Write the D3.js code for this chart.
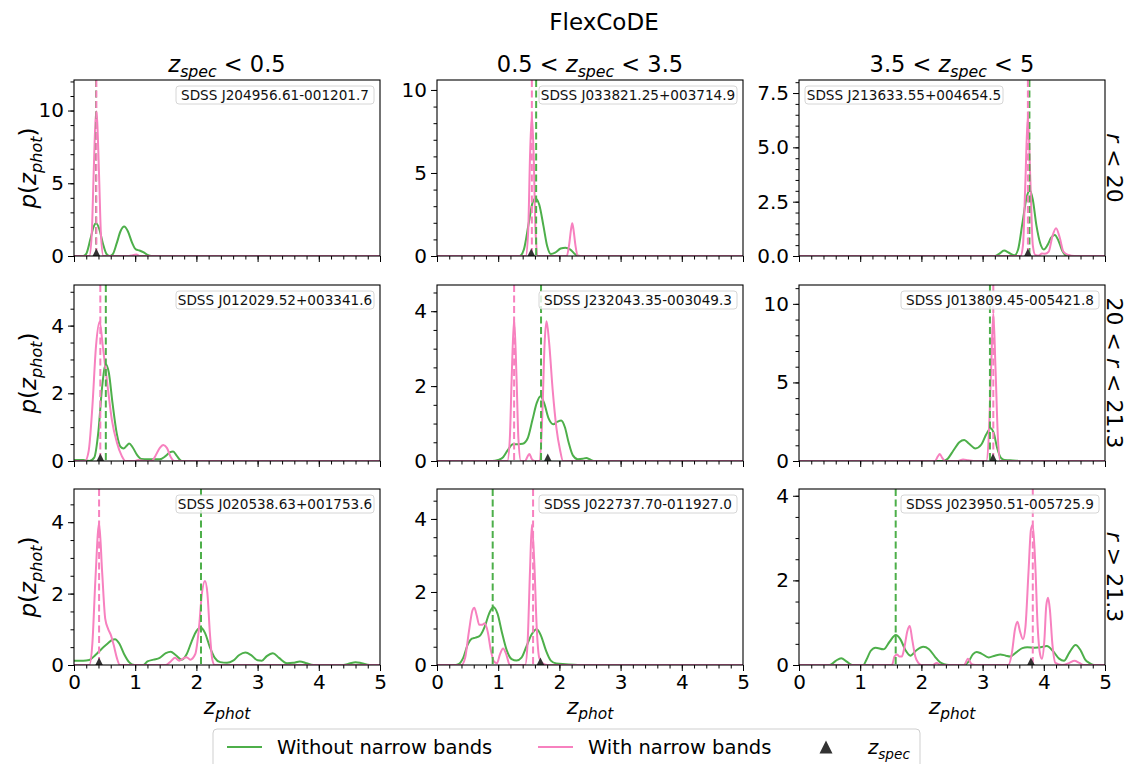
<!DOCTYPE html>
<html>
<head>
<meta charset="utf-8">
<script src="https://cdn.jsdelivr.net/npm/d3@7"></script>
<style>
  body { margin: 0; background: #fff; }
  svg { font-family: "DejaVu Sans", sans-serif; }
  text { white-space: pre; }
</style>
</head>
<body>
<script>
// --- values ---

// grid labels
const colTitles = [
    [["z", "i"], ["spec", "s"], [" < 0.5"]],
    [["0.5 < "], ["z", "i"], ["spec", "s"], [" < 3.5"]],
    [["3.5 < "], ["z", "i"], ["spec", "s"], [" < 5"]]
];
const rowTitles = [
    [["r", "i"], [" < 20"]],
    [["20 < "], ["r", "i"], [" < 21.3"]],
    [["r", "i"], [" > 21.3"]]
];

// one object name per panel (row by row)
const objectNames = [
    "SDSS J204956.61-001201.7", "SDSS J033821.25+003714.9", "SDSS J213633.55+004654.5",
    "SDSS J012029.52+003341.6", "SDSS J232043.35-003049.3", "SDSS J013809.45-005421.8",
    "SDSS J020538.63+001753.6", "SDSS J022737.70-011927.0", "SDSS J023950.51-005725.9"
];
const nameSide = ["right", "right", "left", "right", "right", "right", "right", "right", "right"];

// spectroscopic redshifts and the modes of both pdfs
const zSpec = [0.365, 1.54, 3.74, 0.43, 1.81, 3.17, 0.41, 1.69, 3.79];
const modeWithout = [0.36, 1.62, 3.765, 0.52, 1.70, 3.12, 2.075, 0.91, 1.58];
const modeWith = [0.365, 1.55, 3.74, 0.43, 1.26, 3.175, 0.41, 1.57, 3.82];

// y axis tops and tick steps
const yTop = [12.1, 10.6, 8.1, 5.2, 4.7, 11.2, 4.93, 4.82, 4.16];
const yMajor = [5, 5, 2.5, 2, 2, 5, 2, 2, 2];
const yMinor = [1, 1, 0.5, 0.5, 0.5, 1, 0.5, 0.5, 0.5];

const xMajor = [0, 1, 2, 3, 4, 5];
const xMinor = [0, 0.2, 0.4, 0.6, 0.8, 1, 1.2, 1.4, 1.6, 1.8, 2, 2.2, 2.4, 2.6, 2.8, 3, 3.2, 3.4, 3.6, 3.8,
    4, 4.2, 4.4, 4.6, 4.8, 5];

// p(z_phot) without narrow bands, [z, p] per panel
const withoutNarrow = [
    [[0,0],[0.15,0],[0.2,0.15],[0.27,1.2],[0.32,2.0],[0.36,2.25],[0.41,1.9],[0.47,0.9],[0.53,0.15],[0.58,0],
     [0.63,0.1],[0.7,0.9],[0.76,1.7],[0.82,2.02],[0.88,1.7],[0.95,0.9],[1.01,0.45],[1.07,0.38],[1.14,0.25],
     [1.2,0.08],[1.27,0],[5,0]],
    [[0,0],[1.35,0],[1.42,0.4],[1.5,2.0],[1.56,3.2],[1.61,3.47],[1.67,3.1],[1.74,1.8],[1.8,0.6],[1.86,0.12],
     [1.93,0.2],[2.02,0.45],[2.1,0.5],[2.18,0.38],[2.26,0.1],[2.35,0],[5,0]],
    [[0,0],[3.2,0],[3.27,0.1],[3.35,0.25],[3.43,0.15],[3.52,0.03],[3.58,0.3],[3.65,1.5],[3.72,2.7],[3.77,3.04],
     [3.82,2.6],[3.88,1.4],[3.94,0.6],[4.0,0.3],[4.06,0.5],[4.12,0.85],[4.18,0.97],[4.24,0.7],[4.3,0.25],
     [4.36,0.03],[4.45,0],[5,0]],
    [[0,0.03],[0.15,0.03],[0.25,0],[0.33,0.1],[0.4,0.9],[0.46,2.2],[0.52,2.86],[0.57,2.6],[0.63,1.7],[0.7,0.8],
     [0.76,0.42],[0.81,0.37],[0.86,0.45],[0.9,0.52],[0.96,0.4],[1.03,0.18],[1.1,0.06],[1.2,0.05],[1.3,0.05],
     [1.4,0.05],[1.5,0.15],[1.57,0.26],[1.62,0.28],[1.68,0.15],[1.76,0],[5,0]],
    [[0,0],[0.9,0],[1.0,0.03],[1.08,0.1],[1.16,0.3],[1.24,0.45],[1.32,0.45],[1.4,0.46],[1.48,0.6],[1.56,1.1],
     [1.63,1.55],[1.69,1.73],[1.75,1.55],[1.82,1.15],[1.9,0.98],[1.97,1.05],[2.03,1.08],[2.09,0.9],[2.15,0.5],
     [2.22,0.15],[2.3,0.05],[2.38,0.06],[2.44,0.08],[2.5,0.04],[2.56,0],[5,0]],
    [[0,0],[2.35,0],[2.43,0.15],[2.52,0.65],[2.62,1.2],[2.7,1.34],[2.78,1.1],[2.88,0.8],[2.98,1.05],[3.06,1.7],
     [3.13,2.09],[3.18,1.8],[3.24,0.8],[3.3,0.2],[3.36,0.06],[3.45,0.05],[3.55,0.02],[3.6,0],[5,0]],
    [[0,0.12],[0.15,0.12],[0.25,0.14],[0.35,0.28],[0.45,0.45],[0.55,0.6],[0.62,0.7],[0.67,0.72],[0.74,0.6],
     [0.82,0.3],[0.9,0.08],[0.99,0],[1.13,0],[1.2,0.1],[1.3,0.15],[1.4,0.2],[1.5,0.33],[1.58,0.37],[1.66,0.28],
     [1.76,0.15],[1.84,0.3],[1.92,0.65],[2.0,0.95],[2.07,1.05],[2.14,0.9],[2.22,0.5],[2.3,0.2],[2.39,0.08],
     [2.5,0.06],[2.6,0.12],[2.7,0.28],[2.8,0.35],[2.9,0.27],[3.0,0.13],[3.07,0.12],[3.15,0.25],[3.25,0.33],
     [3.35,0.2],[3.48,0.05],[3.58,0.06],[3.69,0.1],[3.8,0.05],[3.91,0],[4.4,0],[4.5,0.04],[4.6,0.08],[4.7,0.05],
     [4.83,0],[5,0]],
    [[0,0],[0.3,0],[0.36,0.03],[0.43,0.2],[0.5,0.55],[0.57,0.72],[0.63,0.75],[0.7,0.8],[0.78,1.05],[0.85,1.4],
     [0.92,1.59],[0.99,1.4],[1.06,0.9],[1.14,0.4],[1.22,0.16],[1.3,0.12],[1.38,0.2],[1.46,0.5],[1.55,0.85],
     [1.63,0.98],[1.7,0.8],[1.78,0.4],[1.86,0.12],[1.95,0.04],[2.1,0.02],[2.3,0],[5,0]],
    [[0,0],[0.5,0],[0.6,0.1],[0.69,0.16],[0.78,0.08],[0.87,0],[1.05,0],[1.1,0.12],[1.17,0.33],[1.25,0.41],
     [1.38,0.37],[1.48,0.55],[1.58,0.71],[1.66,0.6],[1.74,0.35],[1.82,0.22],[1.92,0.35],[2.03,0.43],[2.12,0.38],
     [2.22,0.2],[2.3,0.07],[2.37,0.02],[2.45,0],[2.7,0],[2.77,0.08],[2.84,0.25],[2.9,0.31],[2.98,0.27],[3.1,0.18],
     [3.2,0.22],[3.29,0.25],[3.38,0.22],[3.45,0.2],[3.55,0.3],[3.65,0.4],[3.73,0.42],[3.85,0.41],[3.95,0.42],
     [4.05,0.45],[4.15,0.33],[4.25,0.15],[4.33,0.1],[4.42,0.3],[4.52,0.47],[4.6,0.35],[4.68,0.12],[4.74,0.05],
     [4.82,0],[5,0]]
];

// p(z_phot) with narrow bands, [z, p] per panel
const withNarrow = [
    [[0,0],[0.25,0],[0.29,1.5],[0.32,5.5],[0.35,9.2],[0.365,9.95],[0.38,9.2],[0.41,5.5],[0.44,1.5],[0.48,0],
     [0.9,0],[0.96,0.06],[1.02,0.1],[1.08,0],[5,0]],
    [[0,0],[1.45,0],[1.49,1.5],[1.52,6.0],[1.55,8.5],[1.58,6.0],[1.61,1.5],[1.65,0],[2.12,0],[2.16,0.7],
     [2.19,1.6],[2.21,1.97],[2.23,1.6],[2.26,0.7],[2.3,0],[5,0]],
    [[0,0],[3.62,0],[3.66,0.5],[3.7,3.5],[3.74,6.5],[3.78,3.5],[3.82,0.5],[3.86,0.05],[3.92,0.02],[3.97,0.12],
     [4.02,0.1],[4.08,0.2],[4.14,0.9],[4.2,1.28],[4.26,0.85],[4.32,0.2],[4.4,0.05],[4.5,0],[5,0]],
    [[0,0],[0.18,0],[0.24,0.3],[0.3,1.6],[0.36,3.4],[0.42,4.12],[0.47,3.4],[0.55,2.2],[0.62,1.2],[0.7,0.55],
     [0.78,0.15],[0.84,0],[1.0,0],[1.05,0.03],[1.15,0],[1.27,0],[1.33,0.15],[1.4,0.38],[1.46,0.47],[1.52,0.38],
     [1.58,0.12],[1.64,0],[5,0]],
    [[0,0],[1.15,0],[1.19,0.6],[1.22,2.2],[1.26,3.8],[1.3,2.2],[1.33,0.6],[1.37,0],[1.44,0],[1.48,0.12],
     [1.51,0.19],[1.55,0.05],[1.6,0],[1.68,0],[1.72,1.2],[1.76,3.2],[1.79,3.73],[1.83,3.2],[1.89,1.9],[1.95,0.9],
     [2.01,0.3],[2.06,0],[5,0]],
    [[0,0],[2.22,0],[2.27,0.3],[2.3,0.45],[2.34,0.2],[2.39,0],[2.6,0],[2.68,0.1],[2.76,0.05],[2.85,0],
     [3.06,0],[3.1,1.5],[3.14,6.0],[3.175,9.4],[3.21,6.0],[3.25,1.5],[3.29,0],[5,0]],
    [[0,0],[0.25,0],[0.3,0.6],[0.35,2.4],[0.41,3.97],[0.46,2.6],[0.51,1.3],[0.56,1.0],[0.6,0.85],[0.65,0.55],
     [0.7,0.2],[0.75,0],[1.5,0],[1.58,0.1],[1.65,0.2],[1.72,0.12],[1.78,0.18],[1.84,0.22],[1.9,0.15],[1.98,0.3],
     [2.04,1.0],[2.09,2.0],[2.14,2.35],[2.18,2.0],[2.22,0.9],[2.26,0.15],[2.3,0],[5,0]],
    [[0,0],[0.4,0],[0.46,0.2],[0.52,0.9],[0.58,1.5],[0.61,1.57],[0.65,1.35],[0.69,1.1],[0.74,1.1],[0.78,1.14],
     [0.83,0.9],[0.88,0.4],[0.93,0.1],[0.98,0.05],[1.03,0.3],[1.08,0.45],[1.13,0.3],[1.19,0],[1.44,0],[1.48,0.6],
     [1.52,2.6],[1.55,3.84],[1.59,2.8],[1.63,1.0],[1.67,0.2],[1.72,0.05],[1.8,0],[5,0]],
    [[0,0],[1.52,0],[1.56,0.2],[1.6,0.25],[1.64,0.2],[1.68,0.2],[1.72,0.4],[1.77,0.8],[1.81,0.92],[1.85,0.6],
     [1.9,0.2],[1.95,0.05],[2.0,0],[2.18,0],[2.25,0.05],[2.32,0],[2.7,0],[2.76,0.15],[2.82,0.02],[2.88,0],
     [3.42,0],[3.48,0.3],[3.53,0.85],[3.57,1.02],[3.61,0.8],[3.66,0.61],[3.7,0.9],[3.75,2.2],[3.79,3.2],
     [3.82,3.31],[3.86,2.4],[3.9,0.9],[3.94,0.25],[3.97,0.15],[4.01,0.6],[4.04,1.4],[4.07,1.59],[4.1,1.3],
     [4.14,0.5],[4.19,0.05],[4.3,0],[4.42,0.05],[4.5,0.1],[4.58,0.05],[4.65,0],[5,0]]
];

const legendLabels = ["Without narrow bands", "With narrow bands"];

// --- drawing ---
const width = 1128, height = 764;
const green = "#4daf4a", pink = "#f781bf", markColor = "#333";
const colX = [74, 437, 799], rowY = [80, 285, 489];
const pw = 306, ph = 176;

const svg = d3.select("body").append("svg")
    .attr("width", width)
    .attr("height", height);

svg.append("rect").attr("width", width).attr("height", height).attr("fill", "#fff");

// writes text parts; "i" italic, "s" italic subscript
function rich(sel, parts, size) {
    let shift = 0;
    parts.forEach(p => {
        const ts = sel.append("tspan").text(p[0]);
        if (p[1] === "i" || p[1] === "s") ts.attr("font-style", "italic");
        const want = p[1] === "s" ? size * 0.24 : 0;
        if (want !== shift) { ts.attr("dy", want - shift); shift = want; }
        if (p[1] === "s") ts.attr("font-size", size * 0.7);
    });
    return sel;
}

const tri = s => `M0,${-s}L${s},${s}L${-s},${s}Z`;

svg.append("text")
    .attr("x", 604).attr("y", 30)
    .attr("text-anchor", "middle")
    .attr("font-size", 23)
    .text("FlexCoDE");

colTitles.forEach((t, c) => {
    rich(svg.append("text")
        .attr("x", colX[c] + pw / 2).attr("y", 72)
        .attr("text-anchor", "middle")
        .attr("font-size", 22.5), t, 22.5);

    rich(svg.append("text")
        .attr("x", colX[c] + pw / 2).attr("y", 714)
        .attr("text-anchor", "middle")
        .attr("font-size", 22), [["z", "i"], ["phot", "s"]], 22);
});

rowTitles.forEach((t, r) => {
    rich(svg.append("text")
        .attr("transform", `translate(1107,${rowY[r] + ph / 2}) rotate(90)`)
        .attr("text-anchor", "middle")
        .attr("font-size", 22), t, 22);

    rich(svg.append("text")
        .attr("transform", `translate(36,${rowY[r] + ph / 2}) rotate(-90)`)
        .attr("text-anchor", "middle")
        .attr("font-size", 23), [["p", "i"], ["("], ["z", "i"], ["phot", "s"], [")"]], 23);
});

const line = d3.line().curve(d3.curveMonotoneX);

objectNames.forEach((name, i) => {
    const row = Math.floor(i / 3), col = i % 3;
    const g = svg.append("g").attr("transform", `translate(${colX[col]},${rowY[row]})`);

    const x = d3.scaleLinear().domain([0, 5]).range([0, pw]);
    const y = d3.scaleLinear().domain([0, yTop[i]]).range([ph, 0]);

    g.append("clipPath").attr("id", "clip" + i)
        .append("rect").attr("width", pw).attr("height", ph);

    const plot = g.append("g").attr("clip-path", `url(#clip${i})`);

    line.x(d => x(d[0])).y(d => y(d[1]));

    plot.append("path").datum(withoutNarrow[i])
        .attr("d", line).attr("fill", "none")
        .attr("stroke", green).attr("stroke-width", 2);
    plot.append("path").datum(withNarrow[i])
        .attr("d", line).attr("fill", "none")
        .attr("stroke", pink).attr("stroke-width", 2);

    [[modeWithout[i], green], [modeWith[i], pink]].forEach(m => {
        plot.append("line")
            .attr("x1", x(m[0])).attr("x2", x(m[0]))
            .attr("y1", 0).attr("y2", ph)
            .attr("stroke", m[1]).attr("stroke-width", 2)
            .attr("stroke-dasharray", "7,3.5");
    });

    plot.append("path")
        .attr("d", tri(7.5))
        .attr("transform", `translate(${x(zSpec[i])},${y(0)})`)
        .attr("fill", markColor);

    // ticks
    const yMaj = d3.range(0, yTop[i] + 1e-9, yMajor[i]);
    const yMin = d3.range(0, yTop[i] + 1e-9, yMinor[i]);

    g.append("g").attr("transform", `translate(0,${ph})`)
        .call(d3.axisBottom(x).tickValues(xMinor).tickSize(3.5).tickFormat(""))
        .call(a => a.select(".domain").remove());
    g.append("g").attr("transform", `translate(0,${ph})`)
        .call(d3.axisBottom(x).tickValues(xMajor).tickSize(6).tickPadding(4)
            .tickFormat(row === 2 ? d3.format("d") : ""))
        .call(a => a.select(".domain").remove());
    g.append("g")
        .call(d3.axisLeft(y).tickValues(yMin).tickSize(3.5).tickFormat(""))
        .call(a => a.select(".domain").remove());
    g.append("g")
        .call(d3.axisLeft(y).tickValues(yMaj).tickSize(6).tickPadding(4)
            .tickFormat(yMajor[i] === 2.5 ? d3.format(".1f") : d3.format("d")))
        .call(a => a.select(".domain").remove());

    g.selectAll(".tick text")
        .attr("font-family", "DejaVu Sans")
        .attr("font-size", 20)
        .attr("fill", "#000");
    g.selectAll(".tick line").attr("stroke", "#000").attr("stroke-width", 1);

    g.append("rect")
        .attr("width", pw).attr("height", ph)
        .attr("fill", "none").attr("stroke", "#000").attr("stroke-width", 1.1);

    // object name box
    const bw = 198, bh = 18;
    const bx = nameSide[i] === "left" ? 6 : pw - 6 - bw;
    const box = g.append("g").attr("transform", `translate(${bx},6)`);
    box.append("rect")
        .attr("width", bw).attr("height", bh).attr("rx", 3)
        .attr("fill", "#fff").attr("fill-opacity", 0.8)
        .attr("stroke", "#d6d6d6").attr("stroke-width", 1);
    box.append("text")
        .attr("x", bw / 2).attr("y", bh / 2)
        .attr("dy", "0.36em")
        .attr("text-anchor", "middle")
        .attr("font-size", 13.6)
        .attr("fill", "#111")
        .text(name);
});

// legend
const leg = svg.append("g").attr("transform", "translate(213,729)");
leg.append("rect")
    .attr("width", 707).attr("height", 48).attr("rx", 4)
    .attr("fill", "#fff").attr("stroke", "#cfcfcf").attr("stroke-width", 1);

[[green, 14, 64], [pink, 325, 375]].forEach((d, k) => {
    leg.append("line")
        .attr("x1", d[1]).attr("x2", d[1] + 35)
        .attr("y1", 18).attr("y2", 18)
        .attr("stroke", d[0]).attr("stroke-width", 2);
    leg.append("text")
        .attr("x", d[2]).attr("y", 25)
        .attr("font-size", 19.5)
        .text(legendLabels[k]);
});
leg.append("path").attr("d", tri(6.5))
    .attr("transform", "translate(613,18)")
    .attr("fill", markColor);
rich(leg.append("text")
    .attr("x", 655).attr("y", 25)
    .attr("font-size", 19.5), [["z", "i"], ["spec", "s"]], 19.5);
</script>
</body>
</html>
